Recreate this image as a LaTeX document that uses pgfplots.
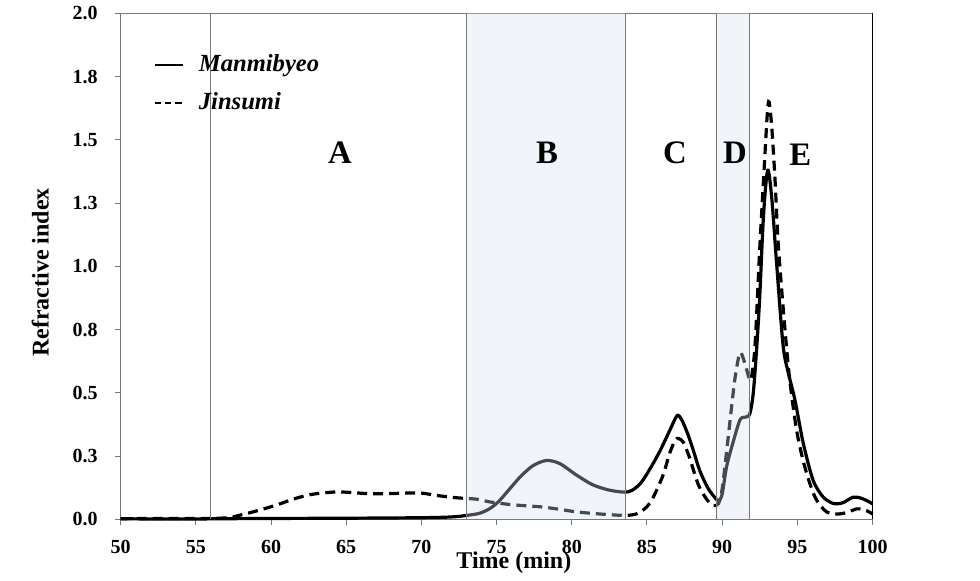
\documentclass[border=0pt]{standalone}
\usepackage{fontspec}
\setmainfont{Liberation Serif}
\usepackage{pgfplots}
\pgfplotsset{compat=1.18}
\definecolor{shadeov}{RGB}{212,225,240}
\definecolor{axgray}{RGB}{120,120,120}
\begin{document}
\begin{tikzpicture}
\begin{axis}[
  scale only axis, width=375.9pt, height=253pt,
  xmin=50, xmax=100, ymin=0, ymax=2,
  xtick={50,55,60,65,70,75,80,85,90,95,100},
  xticklabels={50,55,60,65,70,75,80,85,90,95,100},
  ytick={0,0.25,0.5,0.75,1,1.25,1.5,1.75,2},
  yticklabels={0.0,0.3,0.5,0.8,1.0,1.3,1.5,1.8,2.0},
  xtick pos=bottom, ytick pos=left, tick align=outside,
  major tick length=3pt,
  tick style={axgray, line width=0.5pt},
  axis line style={axgray, line width=0.6pt},
  tick label style={font=\bfseries\fontsize{10}{12}\selectfont},
  xticklabel style={yshift=-4pt},
  yticklabel style={xshift=-5pt},
  xlabel={Time (min)}, ylabel={Refractive index},
  label style={font=\bfseries\fontsize{12}{14}\selectfont},
  xlabel style={at={(axis description cs:0.523,-0.085)}, anchor=center},
  ylabel style={at={(axis description cs:-0.107,0.488)}, anchor=center},
  clip=false,
  legend style={at={(axis description cs:0.035,0.935)}, anchor=north west, draw=none, fill=none,
    font=\bfseries\itshape\fontsize{12.3}{14}\selectfont, row sep=5pt},
  legend cell align=left,
  legend image code/.code={\draw[#1, line width=1.2pt] (0cm,0cm) -- (0.5cm,0cm); \path (0.68cm,0cm);},
]
\addplot[black, line width=1.6pt, smooth, tension=0.5] coordinates {
(50,0.003)(52,0.002)(55,0.002)(57,0.003)(60,0.004)(65,0.005)(70,0.007)(72,0.010)
(73,0.016)(73.9,0.025)(74.6,0.045)(75.2,0.075)(76.0,0.13)(76.6,0.17)(77.4,0.212)
(78.3,0.233)(79.2,0.221)(80.3,0.176)(81.4,0.137)(82.5,0.116)(83.5,0.108)(84.0,0.115)
(84.6,0.145)(85.3,0.21)(85.9,0.275)(86.5,0.35)(87.0,0.41)(87.3,0.395)(87.7,0.34)
(88.1,0.27)(88.5,0.195)(89.0,0.13)(89.4,0.095)(89.75,0.075)(90.0,0.10)(90.3,0.21)
(90.75,0.31)(91.2,0.395)(91.6,0.405)(91.85,0.42)(92.07,0.50)(92.3,0.68)(92.5,0.88)
(92.75,1.2)(93.03,1.38)(93.3,1.27)(93.6,1.03)(94.05,0.69)(94.4,0.58)(94.85,0.47)
(95.4,0.30)(96.05,0.155)(96.7,0.09)(97.3,0.065)(97.7,0.062)(98.1,0.068)(98.7,0.088)
(99.2,0.085)(99.6,0.075)(100,0.062)
};
\addlegendentry{Manmibyeo}
\addplot[black, line width=1.6pt, dash pattern=on 5pt off 3pt, smooth, tension=0.5,
  legend image post style={dash pattern=on 3.2pt off 2pt}] coordinates {
(50,0.003)(52,0.004)(55,0.004)(56.5,0.005)(57.3,0.008)(58,0.018)(58.8,0.03)(59.7,0.045)
(60.6,0.062)(61.3,0.077)(61.9,0.088)(62.6,0.098)(63.3,0.104)(64.4,0.109)(65.5,0.106)
(66.5,0.102)(67.7,0.102)(68.8,0.104)(69.9,0.105)(70.5,0.10)(71.0,0.095)(72.3,0.086)
(73.7,0.080)(74.5,0.070)(75.9,0.059)(77,0.054)(78.1,0.049)(79.2,0.040)(80.3,0.030)
(81.4,0.024)(82.5,0.019)(83.6,0.016)(84.3,0.022)(84.8,0.040)(85.2,0.065)(85.6,0.11)
(86.1,0.18)(86.5,0.26)(86.87,0.313)(87.1,0.32)(87.42,0.305)(87.8,0.25)(88.1,0.194)
(88.4,0.14)(88.75,0.10)(89.1,0.07)(89.4,0.055)(89.75,0.062)(90.0,0.12)(90.3,0.27)
(90.6,0.43)(90.86,0.56)(91.19,0.66)(91.52,0.615)(91.85,0.55)(92.0,0.58)(92.2,0.70)
(92.5,1.07)(92.75,1.34)(93.0,1.60)(93.12,1.65)(93.3,1.55)(93.52,1.34)(93.74,1.08)
(94.18,0.75)(94.5,0.55)(94.96,0.35)(95.5,0.207)(96.18,0.088)(96.95,0.030)(97.8,0.022)
(98.4,0.030)(98.95,0.042)(99.3,0.040)(99.6,0.035)(100,0.022)
};
\addlegendentry{Jinsumi}
% shaded regions (overlay)
\fill[shadeov, fill opacity=0.33] (axis cs:73,0) rectangle (axis cs:83.6,2);
\fill[shadeov, fill opacity=0.33] (axis cs:89.65,0) rectangle (axis cs:91.85,2);
% region boundaries
\draw[axgray, line width=0.5pt] (axis cs:56,0) -- (axis cs:56,2);
\draw[axgray, line width=0.5pt] (axis cs:73,0) -- (axis cs:73,2);
\draw[axgray, line width=0.5pt] (axis cs:83.6,0) -- (axis cs:83.6,2);
\draw[axgray, line width=0.5pt] (axis cs:89.65,0) -- (axis cs:89.65,2);
\draw[axgray, line width=0.5pt] (axis cs:91.85,0) -- (axis cs:91.85,2);
\draw[black, line width=0.6pt] (axis cs:100,0) -- (axis cs:100,2);
% region letters
\begin{scope}[font=\bfseries\fontsize{16.4}{18}\selectfont]
\node at (axis cs:64.58,1.45) {A};
\node at (axis cs:78.35,1.45) {B};
\node at (axis cs:86.87,1.45) {C};
\node at (axis cs:90.86,1.45) {D};
\node at (axis cs:95.2,1.44) {E};
\end{scope}
\end{axis}
\path ([shift={(-60.35pt,-29pt)}]current axis.south west) rectangle ([shift={(53.75pt,6.5pt)}]current axis.north east);
\end{tikzpicture}
\end{document}
